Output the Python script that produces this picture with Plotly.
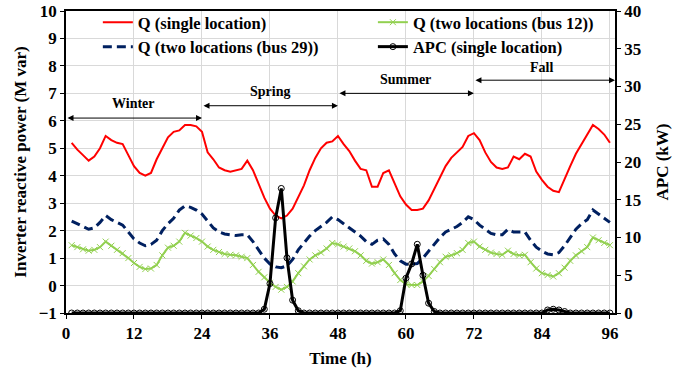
import plotly.graph_objects as go

hours = list(range(1, 97))

q_single = [5.2, 4.95, 4.75, 4.55, 4.7, 5.0, 5.45, 5.3, 5.2, 5.15, 4.75, 4.35,
            4.1, 4.0, 4.1, 4.6, 5.0, 5.4, 5.6, 5.65, 5.85, 5.85, 5.8, 5.6,
            4.85, 4.6, 4.3, 4.2, 4.15, 4.2, 4.25, 4.55, 4.2, 3.7, 3.2, 2.8,
            2.55, 2.45, 2.55, 2.8, 3.2, 3.65, 4.2, 4.65, 5.0, 5.2, 5.25, 5.45,
            5.15, 4.9, 4.55, 4.25, 4.2, 3.6, 3.6, 4.1, 4.2, 3.7, 3.25, 2.95,
            2.75, 2.75, 2.8, 3.1, 3.5, 3.95, 4.35, 4.65, 4.85, 5.05, 5.45, 5.55,
            5.3, 4.85, 4.5, 4.3, 4.25, 4.3, 4.7, 4.6, 4.8, 4.7, 4.15, 3.85,
            3.6, 3.45, 3.4, 3.9, 4.35, 4.8, 5.15, 5.45, 5.85, 5.7, 5.5, 5.2]

q_bus12 = [1.47, 1.4, 1.32, 1.27, 1.3, 1.4, 1.6, 1.45, 1.3, 1.18, 1.0, 0.82,
           0.68, 0.6, 0.62, 0.75, 1.1, 1.38, 1.45, 1.6, 1.92, 1.82, 1.73, 1.6,
           1.42, 1.3, 1.22, 1.15, 1.12, 1.1, 1.05, 1.0, 0.75, 0.5, 0.3, 0.1,
           -0.05, -0.15, -0.05, 0.15, 0.45, 0.7, 0.95, 1.1, 1.2, 1.35, 1.55, 1.5,
           1.42, 1.35, 1.25, 1.1, 0.9, 0.8, 0.85, 0.95, 0.75, 0.45, 0.2, 0.05,
           0.02, 0.02, 0.15, 0.35, 0.6, 0.85, 1.05, 1.1, 1.18, 1.3, 1.55, 1.6,
           1.42, 1.3, 1.2, 1.15, 1.12, 1.27, 1.15, 1.1, 1.12, 0.85, 0.62, 0.45,
           0.38, 0.33, 0.45, 0.65, 0.9, 1.1, 1.25, 1.4, 1.75, 1.65, 1.55, 1.47]

q_bus29 = [2.35, 2.25, 2.15, 2.05, 2.1, 2.3, 2.55, 2.4, 2.3, 2.2, 1.95, 1.7,
           1.55, 1.45, 1.5, 1.65, 2.0, 2.25, 2.45, 2.75, 2.9, 2.85, 2.75, 2.6,
           2.35, 2.1, 1.95, 1.88, 1.85, 1.82, 1.85, 1.85, 1.6, 1.3, 1.0, 0.78,
           0.68, 0.65, 0.72, 0.95, 1.3, 1.55, 1.8, 2.0, 2.15, 2.3, 2.5, 2.4,
           2.25, 2.1, 1.95, 1.8, 1.6, 1.5, 1.65, 1.7, 1.5, 1.15, 0.9, 0.78,
           0.78, 0.8, 1.0, 1.25, 1.5, 1.75, 1.95, 2.05, 2.15, 2.3, 2.5, 2.4,
           2.2, 2.05, 1.9, 1.85, 1.85, 2.05, 1.95, 1.95, 1.95, 1.65, 1.4, 1.25,
           1.15, 1.12, 1.2, 1.45, 1.75, 2.05, 2.25, 2.4, 2.75, 2.6, 2.45, 2.3]

apc_single = [0.0] * 96
apc_peaks = {35: 0.5, 36: 3.9, 37: 12.6, 38: 16.5, 39: 7.3, 40: 1.7, 41: 0.3,
             59: 0.3, 60: 4.6, 61: 6.5, 62: 9.1, 63: 5.0, 64: 1.3, 65: 0.2,
             85: 0.4, 86: 0.5, 87: 0.4, 88: 0.2}
for h, v in apc_peaks.items():
    apc_single[h - 1] = v

seasons = ["Winter", "Spring", "Summer", "Fall"]
season_start = [0, 24, 48, 72]
season_end = [24, 48, 72, 96.9]
season_arrow_y = [6.1, 6.55, 7.0, 7.48]
season_text_y = [6.62, 7.05, 7.5, 7.95]

x_ticks = [0, 12, 24, 36, 48, 60, 72, 84, 96]

FONT = "Liberation Serif"
TICKF = dict(family=FONT, size=17, color="#000000", weight="bold")
TITLEF = dict(family=FONT, size=17, color="#000000", weight="bold")
LEGF = dict(family=FONT, size=16.5, color="#000000", weight="bold")

fig = go.Figure()
fig.add_trace(go.Scatter(x=hours, y=q_single, name="Q (single location)",
                         mode="lines", line=dict(color="#ff0000", width=2),
                         legend="legend"))
fig.add_trace(go.Scatter(x=hours, y=q_bus29, name="Q (two locations (bus 29))",
                         mode="lines", line=dict(color="#002060", width=3, dash="9px,5px"),
                         legend="legend"))
fig.add_trace(go.Scatter(x=hours, y=q_bus12, name="Q (two locations (bus 12))",
                         mode="lines+markers", line=dict(color="#92d050", width=2),
                         marker=dict(symbol="x-thin", size=6,
                                     line=dict(color="#92d050", width=1)),
                         legend="legend2"))
fig.add_trace(go.Scatter(x=hours, y=apc_single, name="APC (single location)",
                         mode="lines+markers", yaxis="y2",
                         line=dict(color="#000000", width=3),
                         marker=dict(symbol="circle-open", size=6,
                                     line=dict(color="#000000", width=1)),
                         legend="legend2"))

for name, x0, x1, ya, yt in zip(seasons, season_start, season_end, season_arrow_y, season_text_y):
    fig.add_annotation(x=x1, y=ya, ax=x0, ay=ya, xref="x", yref="y", axref="x", ayref="y",
                       text="", showarrow=True, arrowhead=2, arrowside="end+start",
                       arrowsize=1.2, arrowwidth=1, arrowcolor="#000000", standoff=0, startstandoff=0)
    fig.add_annotation(x=(x0 + min(x1, 96)) / 2, y=yt, xref="x", yref="y", text=name,
                       showarrow=False, font=dict(family=FONT, size=14, color="#000000", weight="bold"))

fig.update_layout(
    width=694, height=375,
    margin=dict(l=66, r=79, t=11, b=62, autoexpand=False),
    paper_bgcolor="white", plot_bgcolor="white",
    font=dict(family=FONT, size=15, color="#000000", weight="bold"),
    showlegend=True,
    legend=dict(x=0.058, y=1.02, xanchor="left", yanchor="top", bgcolor="rgba(0,0,0,0)",
                font=LEGF, tracegroupgap=0),
    legend2=dict(x=0.559, y=1.02, xanchor="left", yanchor="top", bgcolor="rgba(0,0,0,0)",
                 font=LEGF, tracegroupgap=0),
    xaxis=dict(range=[0, 96.9], tickmode="array", tickvals=x_ticks, automargin=False,
               showgrid=True, gridcolor="#d9d9d9", gridwidth=1,
               showline=True, linecolor="#000000", linewidth=1.5, mirror=True,
               ticks="outside", ticklen=4, tickcolor="#000000", zeroline=False,
               title=dict(text="Time (h)", font=TITLEF, standoff=10),
               tickfont=TICKF),
    yaxis=dict(range=[-1, 10], dtick=1, tick0=0, automargin=False,
               showgrid=True, gridcolor="#d9d9d9", gridwidth=1,
               showline=True, linecolor="#000000", linewidth=1.5,
               ticks="outside", ticklen=4, tickcolor="#000000", zeroline=False,
               title=dict(text="Inverter reactive power (M var)", font=TITLEF, standoff=8),
               tickfont=TICKF),
    yaxis2=dict(range=[0, 40], dtick=5, overlaying="y", side="right", automargin=False,
                showgrid=False, showline=True, linecolor="#000000", linewidth=1.5,
                ticks="outside", ticklen=4, tickcolor="#000000", zeroline=False,
                title=dict(text="APC (kW)", font=TITLEF, standoff=16),
                tickfont=TICKF),
)

fig.write_html("out.html")
